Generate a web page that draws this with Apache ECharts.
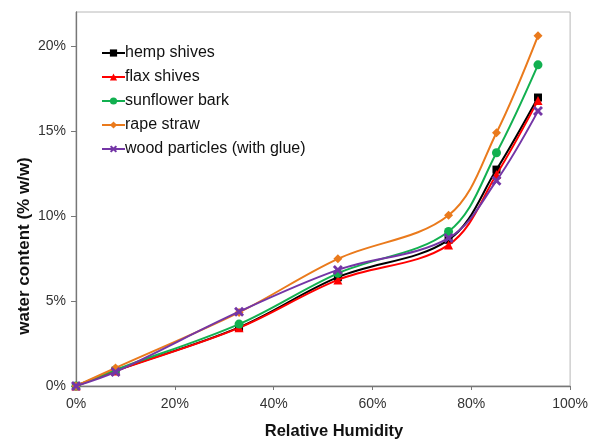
<!DOCTYPE html>
<html><head><meta charset="utf-8">
<script src="https://cdn.jsdelivr.net/npm/echarts@6/dist/echarts.min.js"></script>
<style>html,body{margin:0;padding:0;background:#fff}#c{width:591px;height:441px}</style>
</head><body><div id="c"></div>
<script>
const humidity = [0, 8, 33, 53, 75.4, 85.1, 93.5];
const seriesNames = ['hemp shives', 'flax shives', 'sunflower bark', 'rape straw', 'wood particles (with glue)'];
const hemp = [0, 0.9, 3.45, 6.4, 8.6, 12.73, 16.97];
const flax = [0, 0.88, 3.42, 6.24, 8.3, 12.44, 16.8];
const sunflower = [0, 0.95, 3.64, 6.63, 9.09, 13.72, 18.89];
const rape = [0, 1.06, 4.33, 7.48, 10.04, 14.9, 20.6];
const wood = [0, 0.83, 4.37, 6.83, 8.7, 12.08, 16.17];
const xTicks = [0, 20, 40, 60, 80, 100];
const yTicks = [0, 5, 10, 15, 20];

const colors = ['#000000', '#ff0000', '#12b050', '#ea7a1c', '#7436a6'];
const symbols = ['rect', 'triangle', 'circle', 'diamond',
  'path://M0,2 L2,0 L5,3 L8,0 L10,2 L7,5 L10,8 L8,10 L5,7 L2,10 L0,8 L3,5 Z'];
const sizes = [8, 9, 9, 9, 10];
const allData = [hemp, flax, sunflower, rape, wood];

const chart = echarts.init(document.getElementById('c'));
chart.setOption({
  animation: false,
  grid: {left: 76, right: 18, top: 12, bottom: 55, show: true, borderColor: '#b8b8b8', borderWidth: 1},
  legend: {
    orient: 'vertical', left: 101, top: 45, padding: 0, itemWidth: 23, itemHeight: 9, itemGap: 8,
    textStyle: {fontFamily: 'Liberation Sans, Arial', fontSize: 16, color: '#111', padding: [0, 0, 0, -5]},
    data: seriesNames
  },
  xAxis: {
    type: 'value', min: 0, max: 100, interval: 20,
    axisLine: {show: true, lineStyle: {color: '#777', width: 1.3}},
    axisTick: {show: true, length: 4, lineStyle: {color: '#777'}, customValues: xTicks},
    splitLine: {show: false},
    axisLabel: {customValues: xTicks, formatter: v => v + '%', fontFamily: 'Liberation Sans, Arial', fontSize: 14, color: '#333', margin: 11}
  },
  yAxis: {
    type: 'value', min: 0, max: 22, interval: 5,
    axisLine: {show: true, lineStyle: {color: '#777', width: 1.3}},
    axisTick: {show: true, length: 5, lineStyle: {color: '#777'}, customValues: yTicks},
    splitLine: {show: false},
    axisLabel: {customValues: yTicks, formatter: v => v + '%', fontFamily: 'Liberation Sans, Arial', fontSize: 14, color: '#333', margin: 10}
  },
  graphic: [
    {type: 'text', style: {text: 'water content (% w/w)', font: 'bold 17px "Liberation Sans", Arial', fill: '#111', textAlign: 'center', textVerticalAlign: 'middle'}, x: 24, y: 246, rotation: Math.PI / 2},
    {type: 'text', style: {text: 'Relative Humidity', font: 'bold 16.5px "Liberation Sans", Arial', fill: '#111', textAlign: 'center', textVerticalAlign: 'middle'}, x: 334, y: 431}
  ],
  series: seriesNames.map((n, i) => ({
    name: n, type: 'line', smooth: 0.35,
    data: humidity.map((h, j) => [h, allData[i][j]]),
    symbol: symbols[i], symbolSize: sizes[i], showAllSymbol: true,
    lineStyle: {color: colors[i], width: 2},
    itemStyle: {color: colors[i]},
    z: 2 + i
  }))
});
</script></body></html>
